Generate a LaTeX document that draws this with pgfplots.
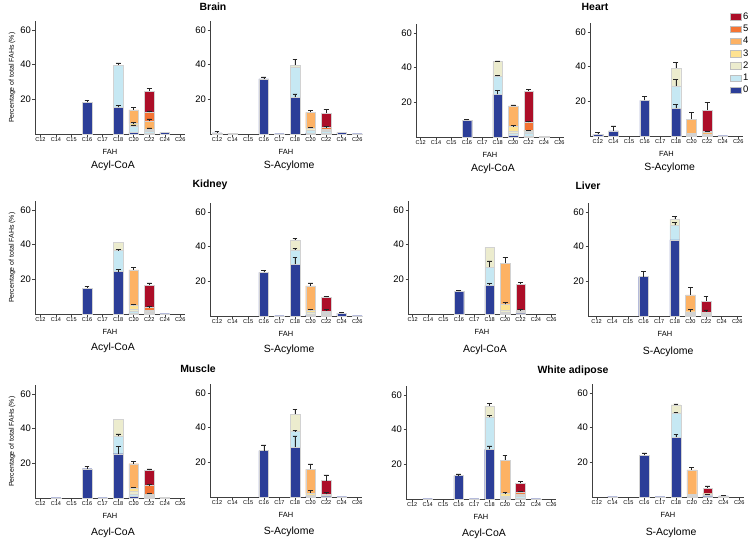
\documentclass[border=0pt]{standalone}
\usepackage{pgfplots}
\pgfplotsset{compat=1.18}
\usepackage{pgfplotstable}
\usepackage{fontspec}
\setmainfont{Liberation Sans}
\usetikzlibrary{calc}

\definecolor{c0}{RGB}{44,62,152}
\definecolor{c1}{RGB}{198,232,243}
\definecolor{c2}{RGB}{236,236,206}
\definecolor{c3}{RGB}{254,226,145}
\definecolor{c4}{RGB}{253,178,100}
\definecolor{c5}{RGB}{244,116,52}
\definecolor{c6}{RGB}{172,14,40}

% columns: x a0..a6 (segments, double bonds 0..6), e0..e6 (upper error)
\pgfplotstableread{
x a0 a1 a2 a3 a4 a5 a6 e0 e1 e2 e3 e4 e5 e6
0 0 0 0 0 0 0 0 0 0 0 0 0 0 0
1 0 0 0 0 0 0 0 0 0 0 0 0 0 0
2 0 0 0 0 0 0 0 0 0 0 0 0 0 0
3 18.2 0 0 0 0 0 0 1.2 0 0 0 0 0 0
4 0 0 0 0 0 0 0 0 0 0 0 0 0 0
5 15.3 24.5 0 0 0 0 0 1.2 1.3 0 0 0 0 0
6 0.8 3.8 0.6 0.8 8.0 0 0 0.3 0.6 0 0.5 1.2 0 0
7 0.5 1.0 0.5 1.0 4.5 5.0 12.5 0.3 0.3 0 0.5 1.2 0.8 1.5
8 0.8 0 0 0 0 0 0 0.3 0 0 0 0 0 0
9 0 0 0 0 0 0 0 0 0 0 0 0 0 0
}\bA
\pgfplotstableread{
x a0 a1 a2 a3 a4 a5 a6 e0 e1 e2 e3 e4 e5 e6
0 0.7 0 0 0 0 0 0 1.0 0 0 0 0 0 0
1 0.3 0 0 0 0 0 0 0.2 0 0 0 0 0 0
2 0 0 0 0 0 0 0 0 0 0 0 0 0 0
3 31.8 0 0 0 0 0 0 1.2 0 0 0 0 0 0
4 0.2 0 0 0 0 0 0 0 0 0 0 0 0 0
5 21.1 17.7 1.0 0 0 0 0 2.0 0 3.3 0 0 0 0
6 0.5 1.5 0.5 1.0 9.0 0 0 0 0 0 0.4 1.2 0 0
7 0.3 1.2 0.3 0.3 0.6 1.0 8.3 0 0 0 0 0 0.5 2.0
8 0.8 0 0 0 0 0 0 0.3 0 0 0 0 0 0
9 0.2 0 0 0 0 0 0 0 0 0 0 0 0 0
}\bS
\pgfplotstableread{
x a0 a1 a2 a3 a4 a5 a6 e0 e1 e2 e3 e4 e5 e6
0 0 0 0 0 0 0 0 0 0 0 0 0 0 0
1 0 0 0 0 0 0 0 0 0 0 0 0 0 0
2 0 0 0 0 0 0 0 0 0 0 0 0 0 0
3 9.7 0 0 0 0 0 0 0.6 0 0 0 0 0 0
4 0 0 0 0 0 0 0 0 0 0 0 0 0 0
5 24.6 10.6 8.3 0 0 0 0 2.5 0.5 0.5 0 0 0 0
6 0.8 1.2 1.5 2.5 12.0 0 0 0.3 0.3 0.3 0.5 0.6 0 0
7 0.5 2.0 0.5 0.5 0.5 4.5 18.2 0 0 0 0.4 0 0.5 1.0
8 0.3 0 0 0 0 0 0 0 0 0 0 0 0 0
9 0 0 0 0 0 0 0 0 0 0 0 0 0 0
}\hA
\pgfplotstableread{
x a0 a1 a2 a3 a4 a5 a6 e0 e1 e2 e3 e4 e5 e6
0 1.0 0 0 0 0 0 0 1.2 0 0 0 0 0 0
1 2.9 0 0 0 0 0 0 3.0 0 0 0 0 0 0
2 0 0 0 0 0 0 0 0 0 0 0 0 0 0
3 20.5 0 0 0 0 0 0 2.3 0 0 0 0 0 0
4 0 0 0 0 0 0 0 0 0 0 0 0 0 0
5 16.0 13.0 10.2 0 0 0 0 2.3 3.8 3.3 0 0 0 0
6 0.3 0.5 0.3 0.5 8.2 0 0 0 0 0 0 3.9 0 0
7 0.3 0.3 0.2 0.3 1.0 0.5 12.4 0 0 0 0 0 0.4 4.5
8 0.2 0 0 0 0 0 0 0 0 0 0 0 0 0
9 0 0 0 0 0 0 0 0 0 0 0 0 0 0
}\hS
\pgfplotstableread{
x a0 a1 a2 a3 a4 a5 a6 e0 e1 e2 e3 e4 e5 e6
0 0 0 0 0 0 0 0 0 0 0 0 0 0 0
1 0 0 0 0 0 0 0 0 0 0 0 0 0 0
2 0 0 0 0 0 0 0 0 0 0 0 0 0 0
3 14.9 0 0 0 0 0 0 1.0 0 0 0 0 0 0
4 0 0 0 0 0 0 0 0 0 0 0 0 0 0
5 24.5 12.1 4.8 0 0 0 0 1.3 0.8 0.3 0 0 0 0
6 0.5 1.0 1.5 2.0 20.5 0 0 0 0 0 0.5 1.5 0 0
7 0.5 0.5 0.3 0.3 0.5 1.7 12.9 0 0 0 0 0 0.4 1.2
8 0.2 0 0 0 0 0 0 0 0 0 0 0 0 0
9 0 0 0 0 0 0 0 0 0 0 0 0 0 0
}\kA
\pgfplotstableread{
x a0 a1 a2 a3 a4 a5 a6 e0 e1 e2 e3 e4 e5 e6
0 0 0 0 0 0 0 0 0 0 0 0 0 0 0
1 0 0 0 0 0 0 0 0 0 0 0 0 0 0
2 0 0 0 0 0 0 0 0 0 0 0 0 0 0
3 25.2 0 0 0 0 0 0 1.3 0 0 0 0 0 0
4 0.2 0 0 0 0 0 0 0 0 0 0 0 0 0
5 29.8 8.4 5.8 0 0 0 0 4.0 1.0 1.0 0 0 0 0
6 0.5 0.8 0.8 1.2 14.1 0 0 0 0 0 0.5 1.7 0 0
7 0.3 1.0 0.2 0.2 0.5 0.8 7.9 0 0 0 0 0 0.6 0.5
8 1.7 0 0 0 0 0 0 0.5 0 0 0 0 0 0
9 0.2 0 0 0 0 0 0 0 0 0 0 0 0 0
}\kS
\pgfplotstableread{
x a0 a1 a2 a3 a4 a5 a6 e0 e1 e2 e3 e4 e5 e6
0 0 0 0 0 0 0 0 0 0 0 0 0 0 0
1 0 0 0 0 0 0 0 0 0 0 0 0 0 0
2 0 0 0 0 0 0 0 0 0 0 0 0 0 0
3 13.0 0 0 0 0 0 0 0.8 0 0 0 0 0 0
4 0 0 0 0 0 0 0 0 0 0 0 0 0 0
5 16.5 10.5 11.5 0 0 0 0 1.3 3.7 0.3 0 0 0 0
6 0.5 0.5 1.0 3.5 23.8 0 0 0 0 0 1.3 3.5 0 0
7 0.2 0.2 0.2 0.3 0.5 0.8 15.0 0 0 0 0 0 0.4 1.0
8 0 0 0 0 0 0 0 0 0 0 0 0 0 0
9 0 0 0 0 0 0 0 0 0 0 0 0 0 0
}\lA
\pgfplotstableread{
x a0 a1 a2 a3 a4 a5 a6 e0 e1 e2 e3 e4 e5 e6
0 0 0 0 0 0 0 0 0 0 0 0 0 0 0
1 0 0 0 0 0 0 0 0 0 0 0 0 0 0
2 0 0 0 0 0 0 0 0 0 0 0 0 0 0
3 22.8 0 0 0 0 0 0 2.9 0 0 0 0 0 0
4 0 0 0 0 0 0 0 0 0 0 0 0 0 0
5 44.0 8.3 3.7 0 0 0 0 0 1.7 1.5 0 0 0 0
6 0.5 0.5 0.5 1.0 9.7 0 0 0 0 0 1.5 4.4 0 0
7 0.3 0.3 0.3 0.3 0.3 1.0 6.2 0 0 0 0 0 1.0 2.6
8 0 0 0 0 0 0 0 0 0 0 0 0 0 0
9 0 0 0 0 0 0 0 0 0 0 0 0 0 0
}\lS
\pgfplotstableread{
x a0 a1 a2 a3 a4 a5 a6 e0 e1 e2 e3 e4 e5 e6
0 0 0 0 0 0 0 0 0 0 0 0 0 0 0
1 0.2 0 0 0 0 0 0 0 0 0 0 0 0 0
2 0 0 0 0 0 0 0 0 0 0 0 0 0 0
3 16.9 0 0 0 0 0 0 1.5 0 0 0 0 0 0
4 0.2 0 0 0 0 0 0 0 0 0 0 0 0 0
5 25.6 10.0 10.0 0 0 0 0 4.2 1.4 0.3 0 0 0 0
6 0.8 1.5 1.5 2.0 14.0 0 0 0 0 0 0.5 1.2 0 0
7 0.5 0.8 0.3 0.2 0.4 5.0 8.8 0 0 0 0 0.5 0.5 0.8
8 0.5 0 0 0 0 0 0 0.2 0 0 0 0 0 0
9 0 0 0 0 0 0 0 0 0 0 0 0 0 0
}\mA
\pgfplotstableread{
x a0 a1 a2 a3 a4 a5 a6 e0 e1 e2 e3 e4 e5 e6
0 0 0 0 0 0 0 0 0 0 0 0 0 0 0
1 0 0 0 0 0 0 0 0 0 0 0 0 0 0
2 0 0 0 0 0 0 0 0 0 0 0 0 0 0
3 26.8 0 0 0 0 0 0 3.3 0 0 0 0 0 0
4 0 0 0 0 0 0 0 0 0 0 0 0 0 0
5 28.8 9.0 10.1 0 0 0 0 6.5 0.5 2.5 0 0 0 0
6 0.3 0.5 0.5 1.0 13.7 0 0 0 0 0 1.5 3.1 0 0
7 0.2 0.2 0.1 0.1 0.3 0.6 8.0 0 0 0 0 0 1.0 3.3
8 0.2 0 0 0 0 0 0 0 0 0 0 0 0 0
9 0 0 0 0 0 0 0 0 0 0 0 0 0 0
}\mS
\pgfplotstableread{
x a0 a1 a2 a3 a4 a5 a6 e0 e1 e2 e3 e4 e5 e6
0 0 0 0 0 0 0 0 0 0 0 0 0 0 0
1 0.2 0 0 0 0 0 0 0 0 0 0 0 0 0
2 0 0 0 0 0 0 0 0 0 0 0 0 0 0
3 13.5 0 0 0 0 0 0 1.0 0 0 0 0 0 0
4 0.2 0 0 0 0 0 0 0 0 0 0 0 0 0
5 28.7 18.4 6.7 0 0 0 0 2.0 1.0 1.3 0 0 0 0
6 0.5 0.8 0.5 1.5 19.2 0 0 0 0 0 0.4 2.5 0 0
7 0.5 1.0 0.3 0.5 0.7 1.0 5.0 0 0 0 0 0 0.5 1.3
8 0.2 0 0 0 0 0 0 0 0 0 0 0 0 0
9 0 0 0 0 0 0 0 0 0 0 0 0 0 0
}\wA
\pgfplotstableread{
x a0 a1 a2 a3 a4 a5 a6 e0 e1 e2 e3 e4 e5 e6
0 0 0 0 0 0 0 0 0 0 0 0 0 0 0
1 0.2 0 0 0 0 0 0 0 0 0 0 0 0 0
2 0 0 0 0 0 0 0 0 0 0 0 0 0 0
3 24.0 0 0 0 0 0 0 1.5 0 0 0 0 0 0
4 0.2 0 0 0 0 0 0 0 0 0 0 0 0 0
5 34.5 14.0 4.8 0 0 0 0 1.8 0.5 0.5 0 0 0 0
6 0.3 0.4 0.3 0.5 14.2 0 0 0 0 0 0.3 1.6 0 0
7 0.2 1.0 0.3 0.2 0.2 0.2 3.3 0 0.4 0 0 0 0 1.0
8 0.6 0 0 0 0 0 0 0.5 0 0 0 0 0 0
9 0 0 0 0 0 0 0 0 0 0 0 0 0 0
}\wS

\pgfplotsset{
  barleg/.style={legend image code/.code={\draw[##1, draw=gray!50] (0bp,-3.2bp) rectangle (11bp,3.2bp);}},
  panel/.style={
    ybar stacked, bar width=0.62,
    scale only axis, height=112.6bp,
    ymin=0, ymax=65, ytick={20,40,60},
    xtick={0,...,9},
    xticklabels={C12,C14,C15,C16,C17,C18,C20,C22,C24,C26},
    axis x line*=bottom, axis y line*=left,
    axis line style={black!75, line width=0.6pt, -},
    tick align=outside, major tick length=2.5bp,
    tick style={black!75, line width=0.5pt},
    yticklabel style={font=\fontsize{9.5}{10}\selectfont, inner sep=1.5bp},
    xticklabel style={font=\fontsize{5.6}{6}\selectfont, inner sep=1bp},
    ylabel style={font=\fontsize{7}{8}\selectfont},
    /pgf/number format/assume math mode=true,
    clip=false,
    every axis plot/.append style={draw=gray!35, line width=0.3pt},
    error bars/y dir=plus, error bars/y explicit,
    error bars/draw error bar/.code 2 args={%
      \path let \p1=##1, \p2=##2 in \pgfextra{\pgfmathsetmacro\ebl{abs(\y2-\y1)}\xdef\eblen{\ebl}};%
      \ifdim\eblen pt>0.6pt\relax
        \draw[black!85, line width=0.55pt] ##1 -- ##2 ++(-2.4bp,0) -- ++(4.8bp,0);%
      \fi
    },
  },
}

\newcommand{\panel}[8]{%
\begin{axis}[panel, at={(#2bp,-#3bp)}, anchor=south west, width=#4bp, xmin=#5, xmax=9.3, #6]
  \addplot[fill=c0, barleg] table[x=x,y=a0,y error=e0]{#1};
  \addplot[fill=c1, barleg] table[x=x,y=a1,y error=e1]{#1};
  \addplot[fill=c2, barleg] table[x=x,y=a2,y error=e2]{#1};
  \addplot[fill=c3, barleg] table[x=x,y=a3,y error=e3]{#1};
  \addplot[fill=c4, barleg] table[x=x,y=a4,y error=e4]{#1};
  \addplot[fill=c5, barleg] table[x=x,y=a5,y error=e5]{#1};
  \addplot[fill=c6, barleg] table[x=x,y=a6,y error=e6]{#1};
  \node[font=\fontsize{7.5}{8}\selectfont, yshift=-18bp] at (rel axis cs:0.5,0) {FAH};
  \node[font=\fontsize{10.5}{12}\selectfont, yshift=-#8bp] at (rel axis cs:0.52,0) {#7};
\end{axis}}

\begin{document}
\begin{tikzpicture}
\useasboundingbox (0,0) rectangle (756bp,-542bp);
% Row 1
\panel{\bA}{35}{134}{150}{-0.35}{ylabel={Percentage of total FAHs (\%)}}{Acyl-CoA}{32}
\panel{\bS}{210}{134}{152}{-0.45}{}{S-Acylome}{32}
\panel{\hA}{416}{137}{148}{-0.3}{}{Acyl-CoA}{32}
\panel{\hS}{590}{136}{153}{-0.5}{legend entries={0,1,2,3,4,5,6}, reverse legend,
  legend style={at={(0.915,1.11)}, anchor=north west, draw=none, fill=none,
  font=\fontsize{9.5}{10}\selectfont, inner sep=0pt, row sep=1.2bp,
  nodes={inner sep=1.5bp}}, legend cell align=left}{S-Acylome}{32}
% Row 2
\panel{\kA}{35}{314}{150}{-0.35}{ylabel={Percentage of total FAHs (\%)}}{Acyl-CoA}{34}
\panel{\kS}{210}{316}{152}{-0.45}{}{S-Acylome}{34}
\panel{\lA}{408}{314}{148}{-0.3}{}{Acyl-CoA}{36}
\panel{\lS}{588}{316}{154}{-0.55}{}{S-Acylome}{36}
% Row 3
\panel{\mA}{35}{498}{150}{-0.35}{ylabel={Percentage of total FAHs (\%)}}{Acyl-CoA}{35}
\panel{\mS}{210}{497}{152}{-0.45}{}{S-Acylome}{35}
\panel{\wA}{406}{499}{150}{-0.4}{}{Acyl-CoA}{35}
\panel{\wS}{592}{497}{152}{-0.3}{}{S-Acylome}{36}
% titles
\begin{scope}[every node/.style={font=\bfseries\fontsize{10.5}{12}\selectfont}]
\node at (213bp,-7bp) {Brain};
\node at (595bp,-7bp) {Heart};
\node at (210bp,-185bp) {Kidney};
\node at (588bp,-186bp) {Liver};
\node at (198bp,-369bp) {Muscle};
\node at (573bp,-371bp) {White adipose};
\end{scope}
\end{tikzpicture}
\end{document}
